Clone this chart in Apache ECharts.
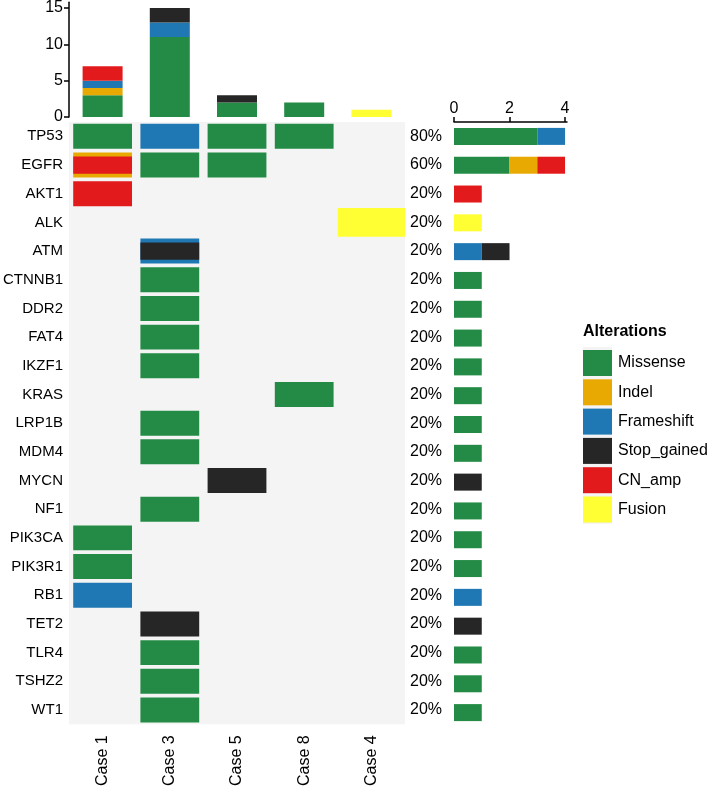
<!DOCTYPE html>
<html>
<head>
<meta charset="utf-8">
<script src="https://cdn.jsdelivr.net/npm/echarts@6/dist/echarts.min.js"></script>
<style>
html,body{margin:0;padding:0;background:#fff;}
#chart{width:708px;height:789px;}
</style>
</head>
<body>
<div id="chart"></div>
<script>
// ---------- data ----------
const cases = ['Case 1', 'Case 3', 'Case 5', 'Case 8', 'Case 4'];
const genes = ['TP53', 'EGFR', 'AKT1', 'ALK', 'ATM', 'CTNNB1', 'DDR2', 'FAT4', 'IKZF1', 'KRAS',
  'LRP1B', 'MDM4', 'MYCN', 'NF1', 'PIK3CA', 'PIK3R1', 'RB1', 'TET2', 'TLR4', 'TSHZ2', 'WT1'];
const pctLabels = ['80%', '60%', '20%', '20%', '20%', '20%', '20%', '20%', '20%', '20%',
  '20%', '20%', '20%', '20%', '20%', '20%', '20%', '20%', '20%', '20%', '20%'];
const types = ['Missense', 'Indel', 'Frameshift', 'Stop_gained', 'CN_amp', 'Fusion'];
const typeColors = ['#238B45', '#E8A902', '#1F78B4', '#262626', '#E31A1C', '#FFFF33'];
const topTicks = [0, 5, 10, 15];
const rightTicks = [0, 2, 4];

// alterations per case (top bar chart), in case order
const caseMissense   = [3, 11, 2, 2, 0];
const caseIndel      = [1, 0, 0, 0, 0];
const caseFrameshift = [1, 2, 0, 0, 0];
const caseStop       = [0, 2, 1, 0, 0];
const caseCNamp      = [2, 0, 0, 0, 0];
const caseFusion     = [0, 0, 0, 0, 1];

// alterations per gene (right bar chart), in gene order
const geneMissense   = [3, 2, 0, 0, 0, 1, 1, 1, 1, 1, 1, 1, 0, 1, 1, 1, 0, 0, 1, 1, 1];
const geneIndel      = [0, 1, 0, 0, 0, 0, 0, 0, 0, 0, 0, 0, 0, 0, 0, 0, 0, 0, 0, 0, 0];
const geneFrameshift = [1, 0, 0, 0, 1, 0, 0, 0, 0, 0, 0, 0, 0, 0, 0, 0, 1, 0, 0, 0, 0];
const geneStop       = [0, 0, 0, 0, 1, 0, 0, 0, 0, 0, 0, 0, 1, 0, 0, 0, 0, 1, 0, 0, 0];
const geneCNamp      = [0, 1, 1, 0, 0, 0, 0, 0, 0, 0, 0, 0, 0, 0, 0, 0, 0, 0, 0, 0, 0];
const geneFusion     = [0, 0, 0, 1, 0, 0, 0, 0, 0, 0, 0, 0, 0, 0, 0, 0, 0, 0, 0, 0, 0];

// individual alterations: [gene, case, type]
const alterations = [
  ['TP53', 'Case 1', 'Missense'], ['TP53', 'Case 3', 'Frameshift'], ['TP53', 'Case 5', 'Missense'], ['TP53', 'Case 8', 'Missense'],
  ['EGFR', 'Case 1', 'Indel'], ['EGFR', 'Case 1', 'CN_amp'], ['EGFR', 'Case 3', 'Missense'], ['EGFR', 'Case 5', 'Missense'],
  ['AKT1', 'Case 1', 'CN_amp'],
  ['ALK', 'Case 4', 'Fusion'],
  ['ATM', 'Case 3', 'Frameshift'], ['ATM', 'Case 3', 'Stop_gained'],
  ['CTNNB1', 'Case 3', 'Missense'], ['DDR2', 'Case 3', 'Missense'], ['FAT4', 'Case 3', 'Missense'],
  ['IKZF1', 'Case 3', 'Missense'], ['KRAS', 'Case 8', 'Missense'], ['LRP1B', 'Case 3', 'Missense'],
  ['MDM4', 'Case 3', 'Missense'], ['MYCN', 'Case 5', 'Stop_gained'], ['NF1', 'Case 3', 'Missense'],
  ['PIK3CA', 'Case 1', 'Missense'], ['PIK3R1', 'Case 1', 'Missense'], ['RB1', 'Case 1', 'Frameshift'],
  ['TET2', 'Case 3', 'Stop_gained'], ['TLR4', 'Case 3', 'Missense'], ['TSHZ2', 'Case 3', 'Missense'],
  ['WT1', 'Case 3', 'Missense']
];

// ---------- build ----------
const caseSeries = [caseMissense, caseIndel, caseFrameshift, caseStop, caseCNamp, caseFusion];
const geneSeries = [geneMissense, geneIndel, geneFrameshift, geneStop, geneCNamp, geneFusion];

const seen = {};
const cellData = alterations.map(a => {
  const key = a[0] + '|' + a[1];
  const layer = seen[key] || 0;
  seen[key] = layer + 1;
  return [cases.indexOf(a[1]), genes.indexOf(a[0]), types.indexOf(a[2]), layer];
});

const FONT = 'Liberation Sans, Arial, Helvetica, sans-serif';
const chart = echarts.init(document.getElementById('chart'), null, {renderer: 'canvas'});

const series = [];
types.forEach((t, i) => {
  series.push({
    name: t, type: 'bar', stack: 'top', xAxisIndex: 0, yAxisIndex: 0,
    barWidth: 40, data: caseSeries[i],
    itemStyle: {color: typeColors[i]}, silent: true
  });
});
series.push({
  type: 'custom', xAxisIndex: 1, yAxisIndex: 1, data: cellData, silent: true,
  renderItem: function (params, api) {
    const c = api.coord([api.value(0), api.value(1)]);
    const s = api.size([1, 1]);
    const t = api.value(2);
    const layer = api.value(3);
    let w = s[0] * 0.875, h = s[1] * 0.87;
    if (types[t] === 'Fusion') { w = s[0]; h = s[1]; }
    if (layer > 0) { h = s[1] * 0.6; }
    return {
      type: 'rect',
      shape: {x: c[0] - w / 2, y: c[1] - h / 2, width: w, height: h},
      style: {fill: typeColors[t]}
    };
  }
});
types.forEach((t, i) => {
  series.push({
    name: t, type: 'bar', stack: 'right', xAxisIndex: 2, yAxisIndex: 3,
    barWidth: 17, data: geneSeries[i],
    itemStyle: {color: typeColors[i]}, silent: true
  });
});

// legend graphics
const legendGraphics = [{
  type: 'text', left: 583, top: 324,
  style: {text: 'Alterations', font: 'bold 16px ' + FONT, fill: '#000'}
}, {
  type: 'rect', shape: {x: 583, y: 347, width: 29, height: 177}, style: {fill: '#F4F4F4'}
}];
types.forEach((t, i) => {
  const cy = 363 + i * 29.3;
  legendGraphics.push({
    type: 'rect', shape: {x: 583, y: cy - 13, width: 29, height: 26}, style: {fill: typeColors[i]}
  });
  legendGraphics.push({
    type: 'text', x: 618, y: cy,
    style: {text: t, font: '16px ' + FONT, fill: '#000', textVerticalAlign: 'middle', verticalAlign: 'middle'}
  });
});

const option = {
  animation: false,
  backgroundColor: '#fff',
  textStyle: {fontFamily: FONT},
  grid: [
    {left: 69, top: 0, width: 336, height: 117},
    {left: 69, top: 122, width: 336, height: 605, show: true, backgroundColor: '#F4F4F4', borderWidth: 0},
    {left: 454, top: 122, width: 113, height: 605}
  ],
  xAxis: [
    {gridIndex: 0, type: 'category', data: cases, axisLine: {show: false}, axisTick: {show: false}, axisLabel: {show: false}},
    {gridIndex: 1, type: 'category', data: cases, position: 'bottom',
      axisLine: {show: false}, axisTick: {show: false},
      axisLabel: {rotate: 90, fontSize: 16, color: '#000', margin: 11, fontFamily: FONT}},
    {gridIndex: 2, type: 'value', min: 0, max: 4.07, position: 'top',
      axisLine: {show: true, lineStyle: {color: '#000', width: 1.5}},
      axisTick: {show: true, length: 5, customValues: rightTicks, lineStyle: {color: '#000', width: 1.5}},
      axisLabel: {fontSize: 16, color: '#000', margin: 5, customValues: rightTicks, fontFamily: FONT},
      splitLine: {show: false}}
  ],
  yAxis: [
    {gridIndex: 0, type: 'value', min: 0, max: 15.8,
      axisLine: {show: true, lineStyle: {color: '#000', width: 1.5}},
      axisTick: {show: true, length: 5, customValues: topTicks, lineStyle: {color: '#000', width: 1.5}},
      axisLabel: {fontSize: 16, color: '#000', margin: 6, customValues: topTicks, fontFamily: FONT},
      splitLine: {show: false}},
    {gridIndex: 1, type: 'category', data: genes, inverse: true,
      axisLine: {show: false}, axisTick: {show: false},
      axisLabel: {fontSize: 15, color: '#000', margin: 6, fontFamily: FONT}},
    {gridIndex: 1, type: 'category', data: pctLabels, inverse: true, position: 'right',
      axisLine: {show: false}, axisTick: {show: false},
      axisLabel: {fontSize: 16, color: '#000', margin: 5, fontFamily: FONT}},
    {gridIndex: 2, type: 'category', data: genes, inverse: true, show: false}
  ],
  graphic: legendGraphics,
  series: series
};
chart.setOption(option);
</script>
</body>
</html>
